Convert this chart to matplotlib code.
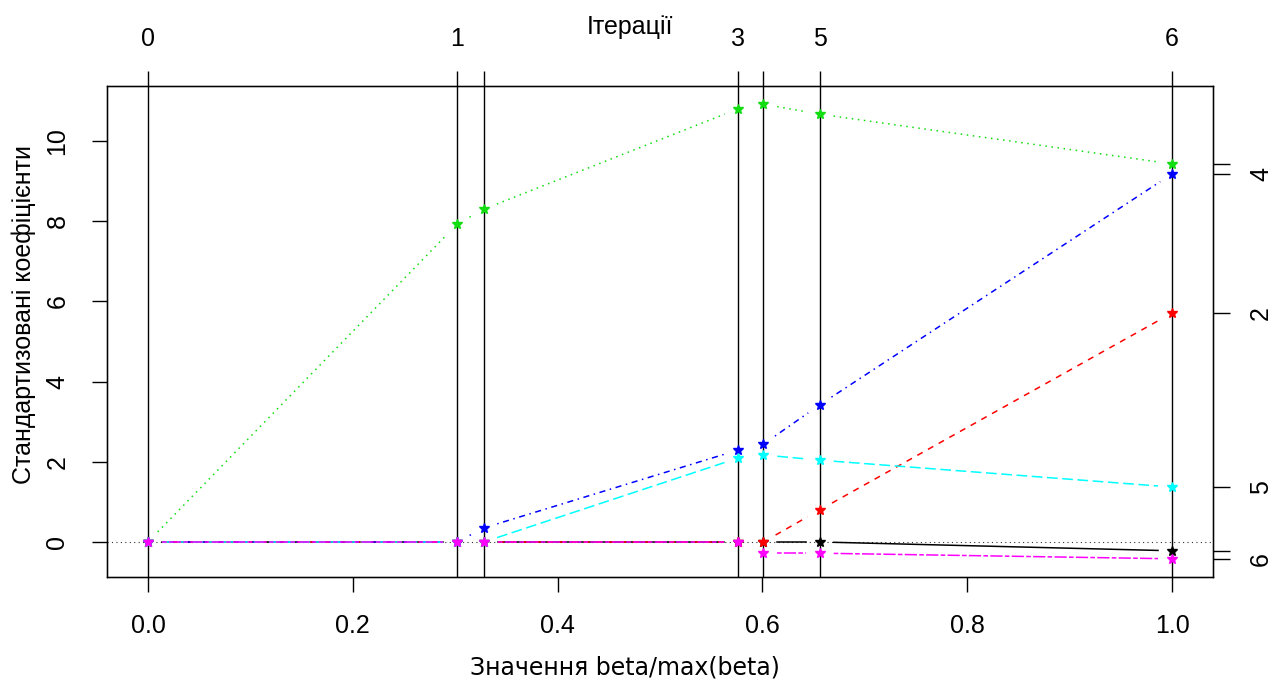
import numpy as np
import matplotlib
matplotlib.use("Agg")
import matplotlib.pyplot as plt

plt.rcParams['font.family'] = ['Liberation Sans', 'DejaVu Sans']

# beta/max(beta) at each LARS step
fraction = [0.0, 0.302, 0.328, 0.576, 0.601, 0.656, 1.0]
top_labels = ['0', '1', '', '3', '', '5', '6']

# standardised coefficients per variable along the path
coef_1 = [0, 0, 0, 0, 0, 0, -0.22]
coef_2 = [0, 0, 0, 0, 0, 0.80, 5.71]
coef_3 = [0, 7.93, 8.30, 10.80, 10.92, 10.67, 9.43]
coef_4 = [0, 0, 0.35, 2.29, 2.44, 3.42, 9.18]
coef_5 = [0, 0, 0, 2.09, 2.17, 2.04, 1.37]
coef_6 = [0, 0, 0, 0, -0.28, -0.28, -0.42]
right_labels = ['', '2', '', '4', '5', '6']

coefs = [coef_1, coef_2, coef_3, coef_4, coef_5, coef_6]
colors = ['black', 'red', '#11dd11', 'blue', 'cyan', 'magenta']
dashes = [(None, None), (4, 4), (1, 3), (1, 3, 4, 3), (7, 3), (3, 1.5, 8, 1.5)]

fig = plt.figure(figsize=(12.72, 6.91), dpi=100)
ax = fig.add_axes([0.0841, 0.1650, 0.8695, 0.7106])

allv = np.concatenate(coefs)
lo, hi = allv.min(), allv.max()
pad = 0.04 * (hi - lo)
ax.set_xlim(-0.04, 1.04)
ax.set_ylim(lo - pad, hi + pad)

ax.axhline(0, color='#333333', lw=0.8, ls=(0, (1, 3)), zorder=1)
for f in fraction:
    ax.axvline(f, color='black', lw=1.0, zorder=1)

# lines with gaps around the points (like R type="b")
gap = 14  # px
fig.canvas.draw()
T = ax.transData
for c, col, d in zip(coefs, colors, dashes):
    pts = T.transform(np.column_stack([fraction, c]))
    for i in range(len(pts) - 1):
        p1, p2 = pts[i], pts[i + 1]
        dist = np.hypot(*(p2 - p1))
        if dist <= 2 * gap:
            continue
        u = (p2 - p1) / dist
        seg = T.inverted().transform(np.array([p1 + u * gap, p2 - u * gap]))
        line, = ax.plot(seg[:, 0], seg[:, 1], color=col, lw=1.1, zorder=2)
        if d[0] is not None:
            line.set_dashes(d)
    ax.plot(fraction, c, ls='none', marker='*', ms=7, color=col, zorder=3)

for s in ax.spines.values():
    s.set_linewidth(1.0)

ax.set_xticks([0, 0.2, 0.4, 0.6, 0.8, 1.0])
ax.set_xticklabels(['0.0', '0.2', '0.4', '0.6', '0.8', '1.0'])
ax.set_yticks([0, 2, 4, 6, 8, 10])
ax.tick_params(axis='both', length=11, width=1, pad=16, labelsize=18)
for t in ax.get_yticklabels():
    t.set_rotation(90)
    t.set_va('center')

top = ax.twiny()
top.set_xlim(ax.get_xlim())
top.set_xticks(fraction)
top.set_xticklabels(top_labels)
top.tick_params(axis='x', length=11, width=1, pad=14, labelsize=18)

right = ax.twinx()
right.set_ylim(ax.get_ylim())
right.set_yticks([c[-1] for c in coefs])
right.set_yticklabels(right_labels)
right.tick_params(axis='y', length=12, width=1, pad=14, labelsize=18)
for t in right.get_yticklabels():
    t.set_rotation(90)
    t.set_va('center')

fig.text(630 / 1272, 1 - 27 / 691, 'Ітерації', ha='center', va='center', fontsize=18)
fig.text(625 / 1272, 1 - 668 / 691, 'Значення beta/max(beta)', ha='center', va='center',
         fontsize=17, family='DejaVu Sans')
fig.text(24 / 1272, 1 - 315 / 691, 'Стандартизовані коефіцієнти', ha='center', va='center',
         rotation=90, fontsize=18)

fig.savefig('out.png', dpi=100)
